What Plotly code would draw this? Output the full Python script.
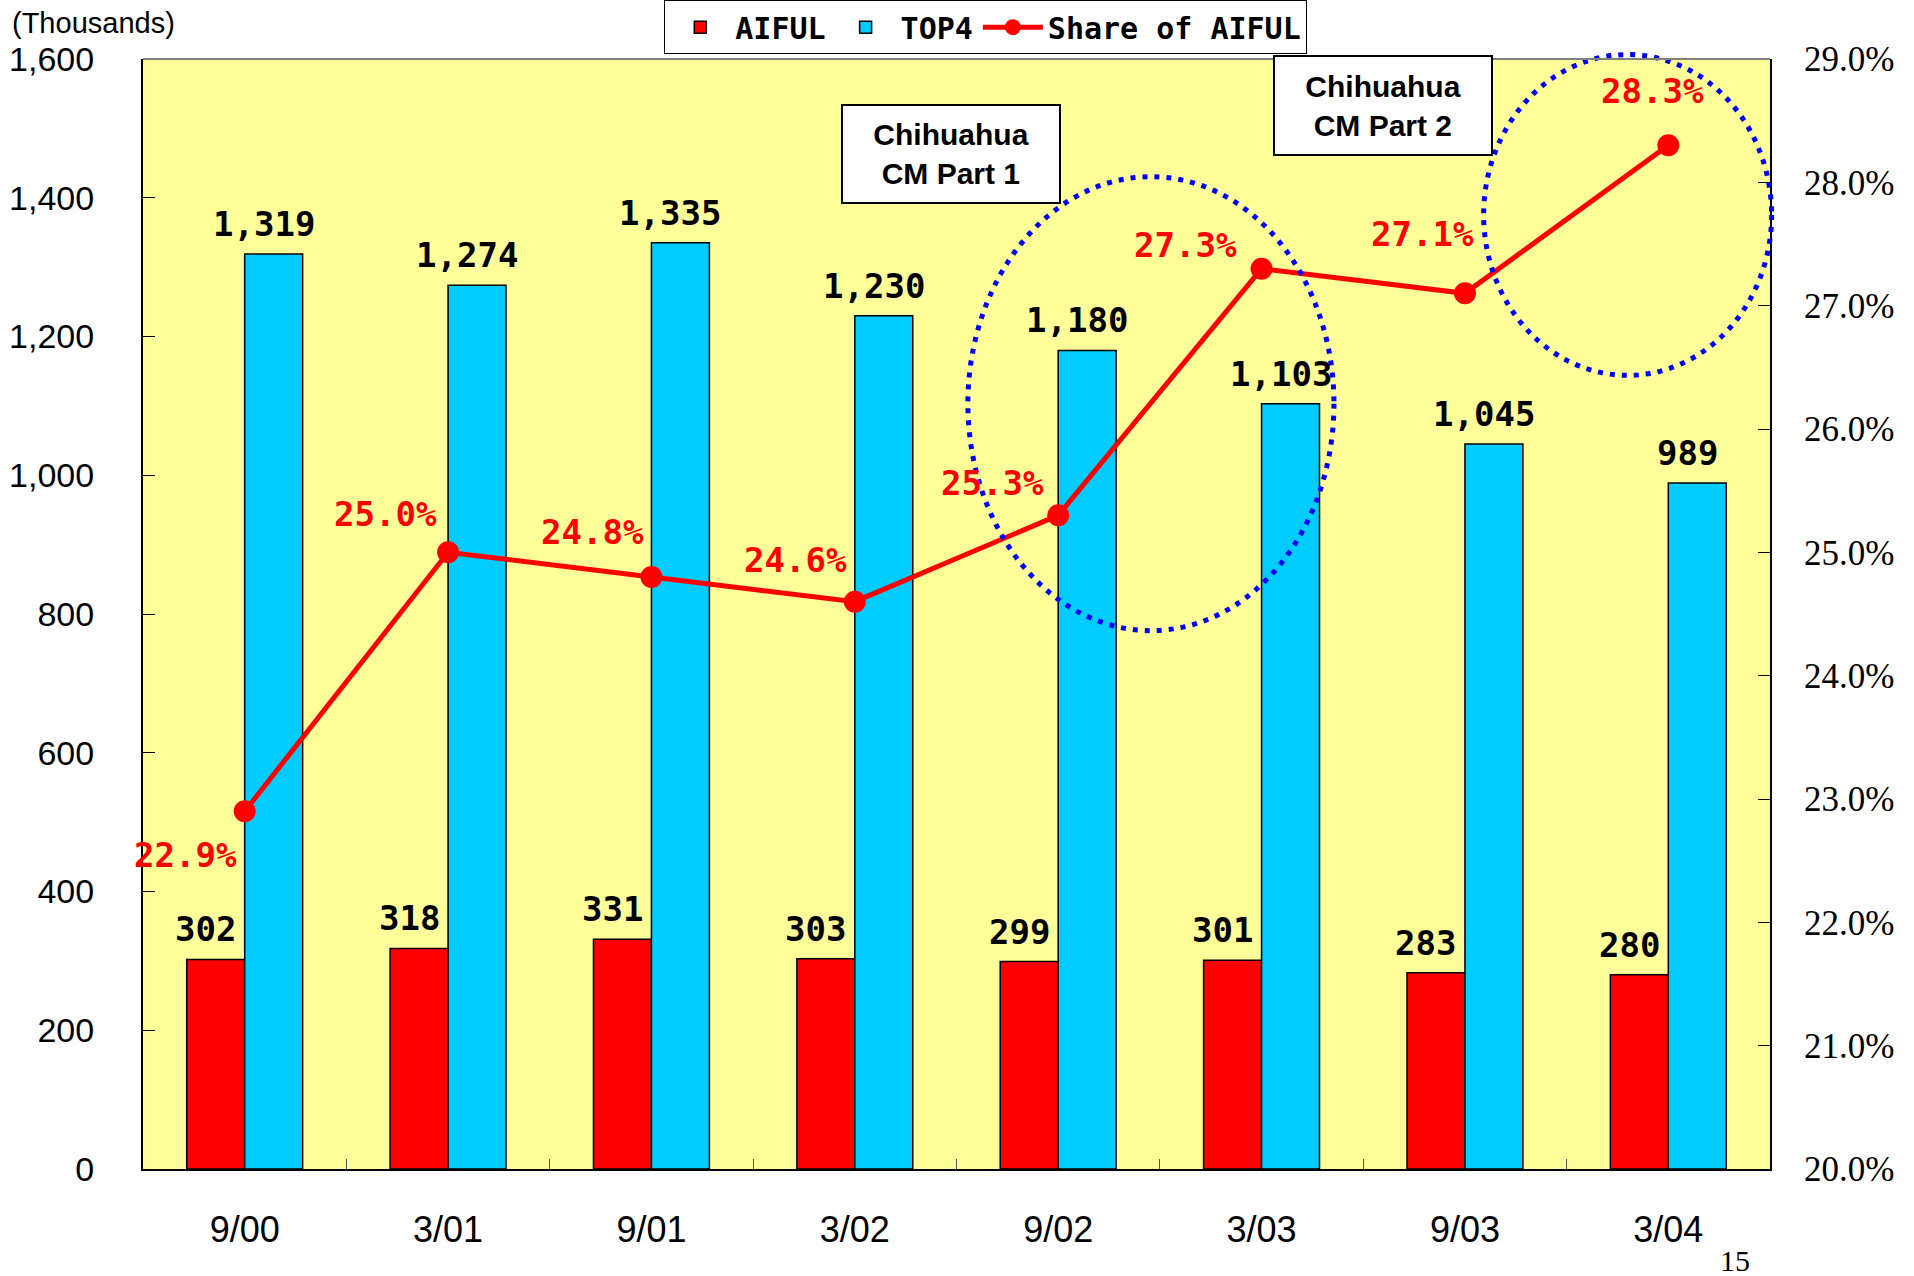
import plotly.graph_objects as go

periods = ["9/00", "3/01", "9/01", "3/02", "9/02", "3/03", "9/03", "3/04"]
aiful = [302, 318, 331, 303, 299, 301, 283, 280]
top4 = [1319, 1274, 1335, 1230, 1180, 1103, 1045, 989]
share = [22.9, 25.0, 24.8, 24.6, 25.3, 27.3, 27.1, 28.3]

# label offsets (px) for share labels
share_dx = [-59, -63, -59, -59, -66, -76, -42, -16]
share_dy = [-44, 38, 45, 42, 32, 24, 59, 54]

RED = "#FF0000"
BLUE = "#00CCFF"
BG = "#FFFF99"
LBL_FONT = "DejaVu Sans Mono"
TICK_FONT = "Liberation Sans"

fig = go.Figure()
fig.add_trace(go.Bar(name="AIFUL", x=periods, y=aiful, marker=dict(color=RED, line=dict(color="black", width=1.5))))
fig.add_trace(go.Bar(name="TOP4", x=periods, y=top4, marker=dict(color=BLUE, line=dict(color="black", width=1.5))))
fig.add_trace(go.Scatter(name="Share of AIFUL", x=periods, y=share, yaxis="y2", mode="lines+markers",
                         line=dict(color=RED, width=5), marker=dict(color=RED, size=22)))

ann = []
for p, a, t in zip(periods, aiful, top4):
    ann.append(dict(x=p, y=a, xref="x", yref="y", text=f"{a:,}", showarrow=False, xshift=-39, yshift=8,
                    xanchor="center", yanchor="bottom",
                    font=dict(family=LBL_FONT, size=34, color="black", weight="bold")))
    ann.append(dict(x=p, y=t, xref="x", yref="y", text=f"{t:,}", showarrow=False, xshift=19, yshift=8,
                    xanchor="center", yanchor="bottom",
                    font=dict(family=LBL_FONT, size=34, color="black", weight="bold")))
for p, s, dx, dy in zip(periods, share, share_dx, share_dy):
    ann.append(dict(x=p, y=s, xref="x", yref="y2", text=f"{s:.1f}%", showarrow=False, xshift=dx, yshift=dy,
                    xanchor="center", yanchor="middle",
                    font=dict(family=LBL_FONT, size=34, color=RED, weight="bold")))

ann.append(dict(x=0.4966, y=0.9144, xref="paper", yref="paper", text="Chihuahua<br>CM Part 1", showarrow=False,
                xanchor="center", yanchor="middle",
                font=dict(family=TICK_FONT, size=30, color="black", weight="bold"), bgcolor="white",
                bordercolor="black", borderwidth=2, borderpad=2, width=212, height=92))
ann.append(dict(x=0.7621, y=0.958, xref="paper", yref="paper", text="Chihuahua<br>CM Part 2", showarrow=False,
                xanchor="center", yanchor="middle",
                font=dict(family=TICK_FONT, size=30, color="black", weight="bold"), bgcolor="white",
                bordercolor="black", borderwidth=2, borderpad=2, width=212, height=93))
ann.append(dict(x=-0.082, y=1.032, xref="paper", yref="paper", text="(Thousands)", showarrow=False,
                xanchor="left", yanchor="middle", font=dict(family=TICK_FONT, size=29, color="black")))
ann.append(dict(x=0.9785, y=-0.082, xref="paper", yref="paper", text="15", showarrow=False,
                xanchor="center", yanchor="middle",
                font=dict(family="Liberation Serif", size=30, color="black")))

shapes = [
    dict(type="circle", xref="paper", yref="paper", x0=0.507, x1=0.732, y0=0.485, y1=0.894,
         line=dict(color="#0000FF", width=5, dash="5px,7px"), layer="above"),
    dict(type="circle", xref="paper", yref="paper", x0=0.824, x1=1.001, y0=0.715, y1=1.004,
         line=dict(color="#0000FF", width=5, dash="5px,7px"), layer="above"),
    dict(type="line", xref="paper", yref="paper", x0=0, x1=1, y0=1, y1=1,
         line=dict(color="#808080", width=2), layer="above"),
]

fig.update_layout(
    width=1914, height=1276,
    margin=dict(l=143, r=144, t=59, b=107, autoexpand=False),
    paper_bgcolor="white", plot_bgcolor=BG,
    barmode="group", bargap=0.43, bargroupgap=0,
    showlegend=True,
    legend=dict(orientation="h", x=0.518, xanchor="center", y=1.053, yanchor="top",
                bgcolor="white", bordercolor="black", borderwidth=1,
                font=dict(family=LBL_FONT, size=30, color="black", weight="bold"),
                itemwidth=60, traceorder="normal"),
    xaxis=dict(type="category", range=[-0.5, len(periods) - 0.5], showline=True, linecolor="black",
               linewidth=2, ticks="inside", tickson="boundaries", ticklen=10, tickcolor="#555555",
               showgrid=False, ticklabelstandoff=28,
               tickfont=dict(family=TICK_FONT, size=36, color="black")),
    yaxis=dict(range=[0, 1600], dtick=200, tickformat=",", showline=True, linecolor="black", linewidth=2,
               ticks="inside", ticklen=12, tickcolor="black", showgrid=False, zeroline=False,
               ticklabelstandoff=40, tickfont=dict(family=TICK_FONT, size=34, color="black")),
    yaxis2=dict(range=[20, 29], dtick=1, tickformat=".1f", ticksuffix="%", overlaying="y", side="right",
                showline=True, linecolor="black", linewidth=2, ticks="inside", ticklen=12, tickcolor="black",
                showgrid=False, zeroline=False, ticklabelstandoff=25,
                tickfont=dict(family="Liberation Sans Narrow", size=35, color="black")),
    annotations=ann, shapes=shapes,
)

fig.write_html("out.html")
